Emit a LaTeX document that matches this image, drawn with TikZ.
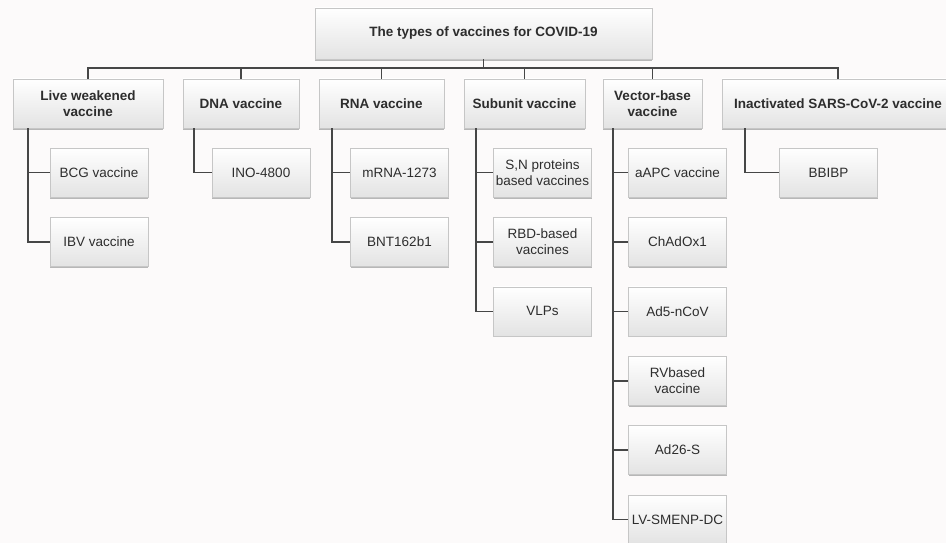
\documentclass[tikz,border=0pt]{standalone}
\usepackage{fontspec}
\setmainfont{Liberation Sans}
\usetikzlibrary{shadows}
\definecolor{pagebg}{RGB}{252,250,250}
\definecolor{linkgray}{RGB}{70,70,70}
\definecolor{txtgray}{RGB}{45,45,45}
\tikzset{
  box/.style={draw=gray!45, line width=0.6pt, top color=white, bottom color=gray!22,
    text=txtgray, align=center, inner sep=1pt, minimum height=49pt,
    font=\fontsize{13.5}{16.5}\selectfont,
    drop shadow={shadow xshift=0.4pt, shadow yshift=-1.6pt, opacity=0.55}},
  cat/.style={box, font=\fontsize{13.5}{16.5}\selectfont\bfseries},
  leaf/.style={box, minimum width=98pt},
  link/.style={draw=linkgray, line width=1.6pt}
}
\begin{document}
\begin{tikzpicture}[x=1pt,y=-1pt]
  % page
  \fill[pagebg] (0,0) rectangle (946,543);
  \useasboundingbox (0,0) rectangle (946,543);

  % root
  \node[cat, minimum width=337pt, minimum height=51pt] (root) at (483.5,33.5) {The types of vaccines for COVID-19};
  \coordinate (bus) at (483.5,68);

  % categories
  \node[cat, minimum width=150pt] (live) at (88,103.5) {Live weakened\\vaccine};
  \node[cat, minimum width=116pt] (dna) at (241,103.5) {DNA vaccine};
  \node[cat, minimum width=125pt] (rna) at (381.5,103.5) {RNA vaccine};
  \node[cat, minimum width=121pt] (sub) at (524.5,103.5) {Subunit vaccine};
  \node[cat, minimum width=99pt] (vec) at (652.5,103.5) {Vector-base\\vaccine};
  \node[cat, minimum width=232pt] (inact) at (838,103.5) {Inactivated SARS-CoV-2 vaccine};

  % bus lines
  \draw[link] (root) -- (bus);
  \draw[link] (live.north) |- (bus);
  \draw[link] (dna.north) |- (bus);
  \draw[link] (rna.north) |- (bus);
  \draw[link] (sub.north) |- (bus);
  \draw[link] (vec.north) |- (bus);
  \draw[link] (inact.north) |- (bus);

  % live weakened
  \node[leaf] (bcg) at (99,172.5) {BCG vaccine};
  \node[leaf] (ibv) at (99,241.9) {IBV vaccine};
  \draw[link] ([xshift=15pt]live.south west) |- (bcg.west);
  \draw[link] ([xshift=15pt]live.south west) |- (ibv.west);

  % DNA
  \node[leaf] (ino) at (261,172.5) {INO-4800};
  \draw[link] ([xshift=11pt]dna.south west) |- (ino.west);

  % RNA
  \node[leaf] (mrna) at (399.5,172.5) {mRNA-1273};
  \node[leaf] (bnt) at (399.5,241.9) {BNT162b1};
  \draw[link] ([xshift=13pt]rna.south west) |- (mrna.west);
  \draw[link] ([xshift=13pt]rna.south west) |- (bnt.west);

  % subunit
  \node[leaf] (snp) at (542.5,172.5) {S,N proteins\\based vaccines};
  \node[leaf] (rbd) at (542.5,241.9) {RBD-based\\vaccines};
  \node[leaf] (vlp) at (542.5,311.3) {VLPs};
  \draw[link] ([xshift=12pt]sub.south west) |- (snp.west);
  \draw[link] ([xshift=12pt]sub.south west) |- (rbd.west);
  \draw[link] ([xshift=12pt]sub.south west) |- (vlp.west);

  % vector-base
  \node[leaf] (aapc) at (677.5,172.5) {aAPC vaccine};
  \node[leaf] (chad) at (677.5,241.9) {ChAdOx1};
  \node[leaf] (ad5) at (677.5,311.3) {Ad5-nCoV};
  \node[leaf] (rv) at (677.5,380.7) {RVbased\\vaccine};
  \node[leaf] (ad26) at (677.5,450.1) {Ad26-S};
  \node[leaf] (lv) at (677.5,519.5) {LV-SMENP-DC};
  \draw[link] ([xshift=10pt]vec.south west) |- (aapc.west);
  \draw[link] ([xshift=10pt]vec.south west) |- (chad.west);
  \draw[link] ([xshift=10pt]vec.south west) |- (ad5.west);
  \draw[link] ([xshift=10pt]vec.south west) |- (rv.west);
  \draw[link] ([xshift=10pt]vec.south west) |- (ad26.west);
  \draw[link] ([xshift=10pt]vec.south west) |- (lv.west);

  % inactivated
  \node[leaf] (bbibp) at (828.5,172.5) {BBIBP};
  \draw[link] ([xshift=23pt]inact.south west) |- (bbibp.west);
\end{tikzpicture}
\end{document}
